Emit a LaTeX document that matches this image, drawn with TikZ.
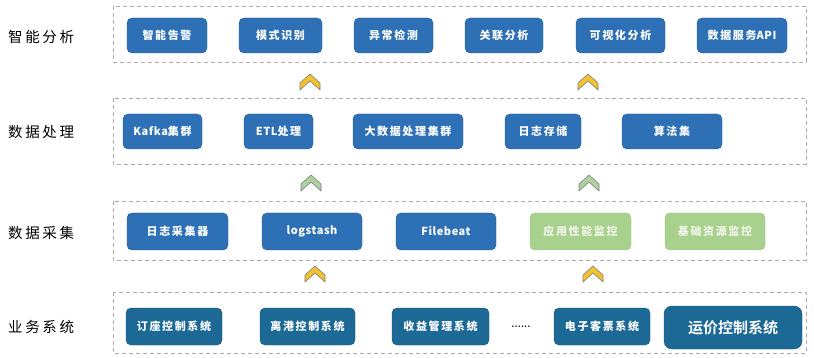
\documentclass[tikz,border=0pt]{standalone}
\usepackage{fontspec}
\newfontfamily\cjk[LetterSpace=15]{Noto Sans CJK SC}
\newfontfamily\latn[LetterSpace=5]{Noto Sans CJK SC}
\newfontfamily\cjklab[LetterSpace=18]{Noto Sans CJK SC}
\newfontfamily\cjkbold{Noto Sans CJK SC Bold}
\definecolor{boxblue}{HTML}{2E70B5}
\definecolor{boxteal}{HTML}{1D6996}
\definecolor{boxgreen}{HTML}{A9D18E}
\definecolor{greentext}{HTML}{EEF5E8}
\definecolor{layergray}{HTML}{ABABAB}
\definecolor{chevyellow}{HTML}{F2C231}
\definecolor{chevgreen}{HTML}{AFD0A0}
\definecolor{chevedge}{HTML}{808080}
\tikzset{
  layerbox/.style={draw=layergray, dashed, dash pattern=on 4pt off 3pt, line width=0.8pt},
  modbox/.style={rounded corners=5pt, fill=boxblue, draw=boxblue!80!black, line width=0.4pt,
     text=white, font=\cjk\fontsize{11}{13}\selectfont\bfseries, inner sep=0pt},
  sysbox/.style={modbox, fill=boxteal, draw=boxteal!80!black},
  grnbox/.style={modbox, fill=boxgreen, draw=boxgreen!90!black, text=greentext},
  laytext/.style={font=\cjklab\fontsize{14.5}{16}\selectfont, anchor=west, text=black, inner sep=0pt},
  chevy/.style={fill=chevyellow, draw=chevedge, line width=0.6pt, line join=miter},
  chevg/.style={fill=chevgreen, draw=chevedge, line width=0.6pt, line join=miter}
}
\newcommand{\chevron}[4]{% style, name, cx, top
  \draw[#1] (#3,#4) coordinate (#2) -- ++(10,9) -- ++(0,7) -- (#3,#4+7) -- ++(-10,9) -- ++(0,-7) -- cycle;}
\newcommand{\lt}[1]{{\latn\bfseries #1}}
\begin{document}
\begin{tikzpicture}[x=1pt,y=-1pt]
\useasboundingbox[fill=white] (0,0) rectangle (814,358);
% layers
\draw[layerbox] (113,6) rectangle (806,62);
\draw[layerbox] (113,98) rectangle (806,164);
\draw[layerbox] (113,201) rectangle (806,260);
\draw[layerbox] (113,292) rectangle (806,353);
% layer labels
\node[laytext] (l1) at (8,37) {智能分析};
\node[laytext] (l2) at (8,132) {数据处理};
\node[laytext] (l3) at (8,233) {数据采集};
\node[laytext] (l4) at (8,327) {业务系统};
% row 1
\node[modbox, minimum width=80pt, minimum height=35pt] (a1) at (167,35.5) {智能告警};
\node[modbox, minimum width=83pt, minimum height=35pt] (a2) at (280.5,35.5) {模式识别};
\node[modbox, minimum width=79pt, minimum height=35pt] (a3) at (393.5,35.5) {异常检测};
\node[modbox, minimum width=78pt, minimum height=35pt] (a4) at (504,35.5) {关联分析};
\node[modbox, minimum width=89pt, minimum height=35pt] (a5) at (620.5,35.5) {可视化分析};
\node[modbox, minimum width=90pt, minimum height=35pt] (a6) at (742,35.5) {数据服务\lt{API}};
% row 2
\node[modbox, minimum width=79pt, minimum height=35pt] (b1) at (162.5,131.5) {\lt{Kafka}集群};
\node[modbox, minimum width=69pt, minimum height=35pt] (b2) at (278.5,131.5) {\lt{ETL}处理};
\node[modbox, minimum width=110pt, minimum height=35pt] (b3) at (408,131.5) {大数据处理集群};
\node[modbox, minimum width=76pt, minimum height=35pt] (b4) at (543,131.5) {日志存储};
\node[modbox, minimum width=100pt, minimum height=35pt] (b5) at (672,131.5) {算法集};
% row 3
\node[modbox, minimum width=101pt, minimum height=37pt] (c1) at (177.5,231.5) {日志采集器};
\node[modbox, minimum width=100pt, minimum height=37pt] (c2) at (312,231.5) {\lt{logstash}};
\node[modbox, minimum width=100pt, minimum height=37pt] (c3) at (446,231.5) {\lt{Filebeat}};
\node[grnbox, minimum width=101pt, minimum height=37pt] (c4) at (580.5,231.5) {应用性能监控};
\node[grnbox, minimum width=100pt, minimum height=37pt] (c5) at (715,231.5) {基础资源监控};
% row 4
\node[sysbox, minimum width=96pt, minimum height=37pt] (d1) at (174,326.5) {订座控制系统};
\node[sysbox, minimum width=95pt, minimum height=37pt] (d2) at (307.5,326.5) {离港控制系统};
\node[sysbox, minimum width=97pt, minimum height=37pt] (d3) at (440.5,326.5) {收益管理系统};
\node[font=\bfseries\fontsize{10}{10}\selectfont, inner sep=0pt] (dots) at (521,327) {......};
\node[sysbox, minimum width=96pt, minimum height=37pt] (d4) at (602,326.5) {电子客票系统};
\node[sysbox, rounded corners=8pt, minimum width=138pt, minimum height=43pt,
      font=\cjkbold\fontsize{15}{17}\selectfont] (d5) at (733,327.5) {运价控制系统};
% chevrons
\chevron{chevy}{k1}{310}{74}
\chevron{chevy}{k2}{588}{74}
\chevron{chevg}{k3}{311}{175}
\chevron{chevg}{k4}{589}{175}
\chevron{chevy}{k5}{315}{266}
\chevron{chevy}{k6}{593}{266}
\end{tikzpicture}
\end{document}
